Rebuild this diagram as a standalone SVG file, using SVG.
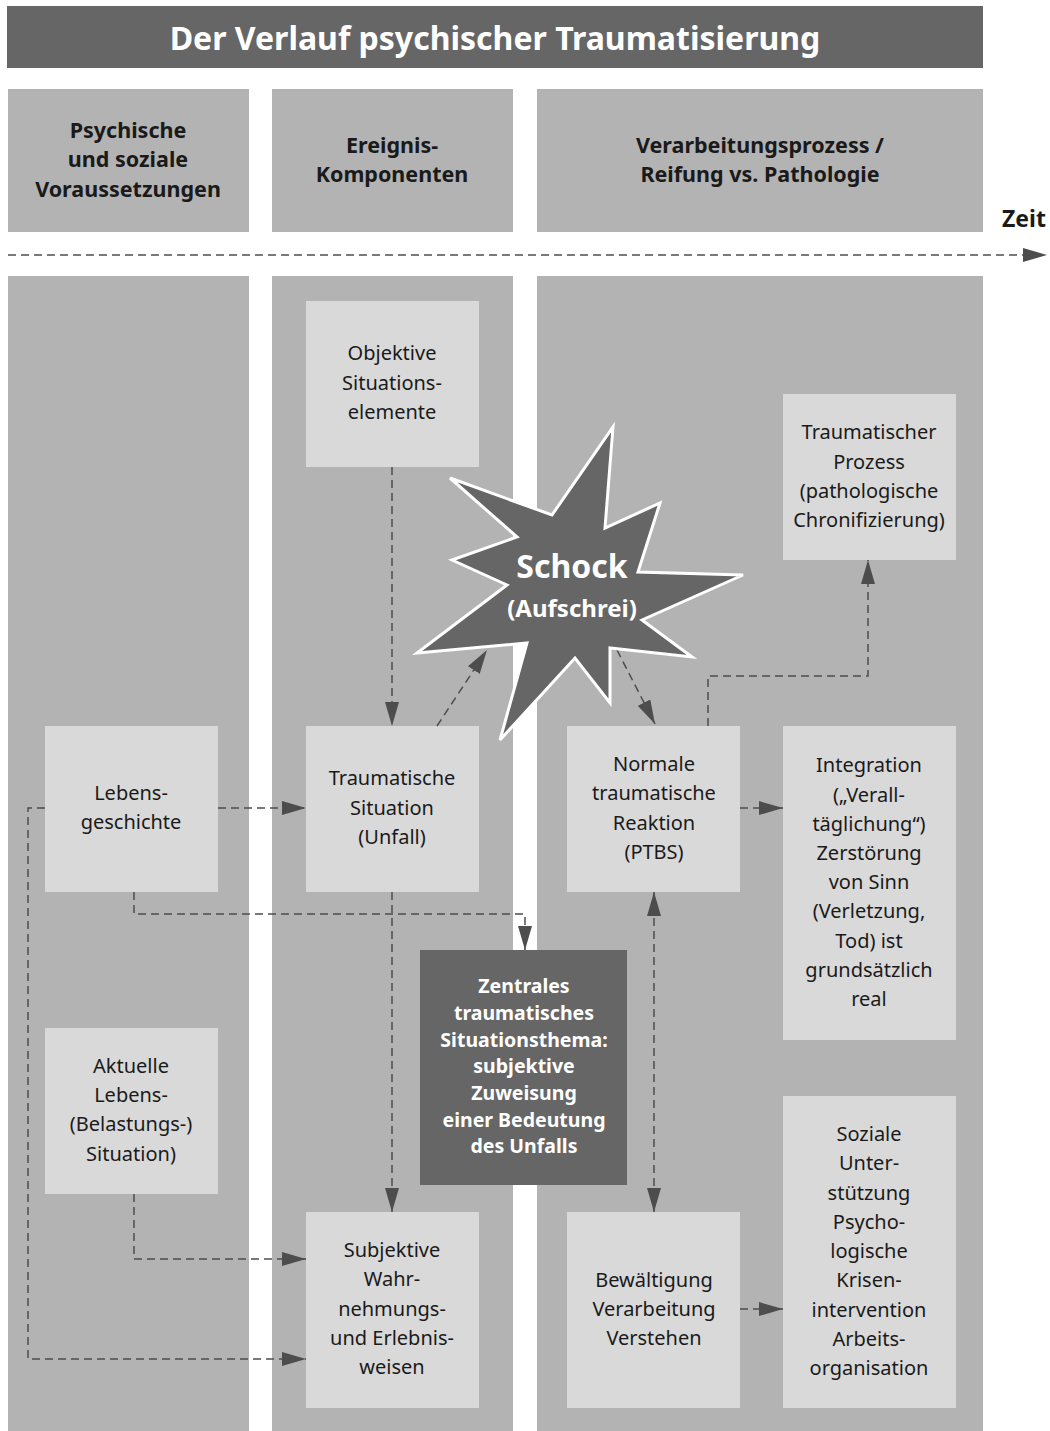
<svg xmlns="http://www.w3.org/2000/svg" width="1050" height="1431" viewBox="0 0 1050 1431">
<defs>
<marker id="ah" markerUnits="userSpaceOnUse" markerWidth="24" markerHeight="14" viewBox="0 0 24 14" refX="24" refY="7" orient="auto-start-reverse"><path d="M0,0 L24,7 L0,14 z" fill="#4d4d4d"/></marker>
<style>
.col{fill:#b3b3b3}
.node{fill:#d9d9d9}
.t{font-family:"Noto Sans","Open Sans",sans-serif;font-size:20px;fill:#1a1a1a;text-anchor:middle}
.h{font-family:"Noto Sans","Open Sans",sans-serif;font-size:21.5px;font-weight:bold;fill:#1a1a1a;text-anchor:middle}
.w{font-family:"Noto Sans","Open Sans",sans-serif;font-size:19.5px;font-weight:bold;fill:#ffffff;text-anchor:middle}
.c{fill:none;stroke:#4d4d4d;stroke-width:1.5;stroke-dasharray:8 5}
</style>
</defs>
<rect width="1050" height="1431" fill="#ffffff"/>
<g id="title">
<rect x="7" y="6" width="976" height="62" fill="#666666"/>
<text x="495" y="50" font-family="Noto Sans, Open Sans, sans-serif" font-size="32" font-weight="bold" fill="#ffffff" text-anchor="middle">Der Verlauf psychischer Traumatisierung</text>
</g>
<g id="header1">
<rect class="col" x="8" y="89" width="241" height="143"/>
<text class="h" x="128" y="138">Psychische</text>
<text class="h" x="128" y="167">und soziale</text>
<text class="h" x="128" y="197">Voraussetzungen</text>
</g>
<g id="header2">
<rect class="col" x="272" y="89" width="241" height="143"/>
<text class="h" x="392" y="153">Ereignis-</text>
<text class="h" x="392" y="182">Komponenten</text>
</g>
<g id="header3">
<rect class="col" x="537" y="89" width="446" height="143"/>
<text class="h" x="760" y="153">Verarbeitungsprozess /</text>
<text class="h" x="760" y="182">Reifung vs. Pathologie</text>
</g>
<g id="zeit">
<text x="1024" y="227" font-family="Noto Sans, Open Sans, sans-serif" font-size="23" font-weight="bold" fill="#1a1a1a" text-anchor="middle">Zeit</text>
<line class="c" x1="8" y1="255" x2="1047" y2="255" marker-end="url(#ah)"/>
</g>
<g id="columns">
<rect class="col" x="8" y="276" width="241" height="1155"/>
<rect class="col" x="272" y="276" width="241" height="1155"/>
<rect class="col" x="537" y="276" width="446" height="1155"/>
</g>
<g id="objektive">
<rect class="node" x="306" y="301" width="173" height="166"/>
<text class="t" x="392" y="360">Objektive</text>
<text class="t" x="392" y="390">Situations-</text>
<text class="t" x="392" y="419">elemente</text>
</g>
<g id="prozess">
<rect class="node" x="783" y="394" width="173" height="166"/>
<text class="t" x="869" y="439">Traumatischer</text>
<text class="t" x="869" y="469">Prozess</text>
<text class="t" x="869" y="498">(pathologische</text>
<text class="t" x="869" y="527">Chronifizierung)</text>
</g>
<g id="lebensgeschichte">
<rect class="node" x="45" y="726" width="173" height="166"/>
<text class="t" x="131" y="800">Lebens-</text>
<text class="t" x="131" y="829">geschichte</text>
</g>
<g id="situation">
<rect class="node" x="306" y="726" width="173" height="166"/>
<text class="t" x="392" y="785">Traumatische</text>
<text class="t" x="392" y="815">Situation</text>
<text class="t" x="392" y="844">(Unfall)</text>
</g>
<g id="reaktion">
<rect class="node" x="567" y="726" width="173" height="166"/>
<text class="t" x="654" y="771">Normale</text>
<text class="t" x="654" y="800">traumatische</text>
<text class="t" x="654" y="830">Reaktion</text>
<text class="t" x="654" y="859">(PTBS)</text>
</g>
<g id="integration">
<rect class="node" x="783" y="726" width="173" height="314"/>
<text class="t" x="869" y="772">Integration</text>
<text class="t" x="869" y="802">(„Verall-</text>
<text class="t" x="869" y="831">täglichung“)</text>
<text class="t" x="869" y="860">Zerstörung</text>
<text class="t" x="869" y="889">von Sinn</text>
<text class="t" x="869" y="918">(Verletzung,</text>
<text class="t" x="869" y="948">Tod) ist</text>
<text class="t" x="869" y="977">grundsätzlich</text>
<text class="t" x="869" y="1006">real</text>
</g>
<g id="zentrales">
<rect x="420" y="950" width="207" height="235" fill="#666666"/>
<text class="w" x="524" y="993">Zentrales</text>
<text class="w" x="524" y="1020">traumatisches</text>
<text class="w" x="524" y="1047">Situationsthema:</text>
<text class="w" x="524" y="1073">subjektive</text>
<text class="w" x="524" y="1100">Zuweisung</text>
<text class="w" x="524" y="1127">einer Bedeutung</text>
<text class="w" x="524" y="1153">des Unfalls</text>
</g>
<g id="aktuelle">
<rect class="node" x="45" y="1028" width="173" height="166"/>
<text class="t" x="131" y="1073">Aktuelle</text>
<text class="t" x="131" y="1102">Lebens-</text>
<text class="t" x="131" y="1131">(Belastungs-)</text>
<text class="t" x="131" y="1161">Situation)</text>
</g>
<g id="subjektive">
<rect class="node" x="306" y="1212" width="173" height="196"/>
<text class="t" x="392" y="1257">Subjektive</text>
<text class="t" x="392" y="1286">Wahr-</text>
<text class="t" x="392" y="1316">nehmungs-</text>
<text class="t" x="392" y="1345">und Erlebnis-</text>
<text class="t" x="392" y="1374">weisen</text>
</g>
<g id="bewaeltigung">
<rect class="node" x="567" y="1212" width="173" height="196"/>
<text class="t" x="654" y="1287">Bewältigung</text>
<text class="t" x="654" y="1316">Verarbeitung</text>
<text class="t" x="654" y="1345">Verstehen</text>
</g>
<g id="soziale">
<rect class="node" x="783" y="1096" width="173" height="312"/>
<text class="t" x="869" y="1141">Soziale</text>
<text class="t" x="869" y="1170">Unter-</text>
<text class="t" x="869" y="1200">stützung</text>
<text class="t" x="869" y="1229">Psycho-</text>
<text class="t" x="869" y="1258">logische</text>
<text class="t" x="869" y="1287">Krisen-</text>
<text class="t" x="869" y="1317">intervention</text>
<text class="t" x="869" y="1346">Arbeits-</text>
<text class="t" x="869" y="1375">organisation</text>
</g>
<g id="connectors">
<path class="c" d="M392,467 L392,726" marker-end="url(#ah)"/>
<path class="c" d="M437,726 L487,650" marker-end="url(#ah)"/>
<path class="c" d="M617,650 L655,724" marker-end="url(#ah)"/>
<path class="c" d="M708,726 L708,676 L868,676 L868,560" marker-end="url(#ah)"/>
<path class="c" d="M218,808 L306,808" marker-end="url(#ah)"/>
<path class="c" d="M45,808 L28,808 L28,1359 L306,1359" marker-end="url(#ah)"/>
<path class="c" d="M134,892 L134,914 L525,914 L525,950" marker-end="url(#ah)"/>
<path class="c" d="M392,892 L392,1212" marker-end="url(#ah)"/>
<path class="c" d="M134,1194 L134,1259 L306,1259" marker-end="url(#ah)"/>
<path class="c" d="M654,892 L654,1212" marker-start="url(#ah)" marker-end="url(#ah)"/>
<path class="c" d="M740,808 L783,808" marker-end="url(#ah)"/>
<path class="c" d="M740,1309 L783,1309" marker-end="url(#ah)"/>
</g>
<g id="schock">
<polygon points="613,427 605,528 660,503 638,572 743,575 642,620 692,657 610,648 610,703 575,658 500,740 527,643 417,653 507,585 452,560 517,537 450,478 552,515" fill="#666666" stroke="#ffffff" stroke-width="3" stroke-linejoin="miter"/>
<text x="572" y="578" font-family="Noto Sans, Open Sans, sans-serif" font-size="32" font-weight="bold" fill="#ffffff" text-anchor="middle">Schock</text>
<text x="572" y="617" font-family="Noto Sans, Open Sans, sans-serif" font-size="24" font-weight="bold" fill="#ffffff" text-anchor="middle">(Aufschrei)</text>
</g>
</svg>
